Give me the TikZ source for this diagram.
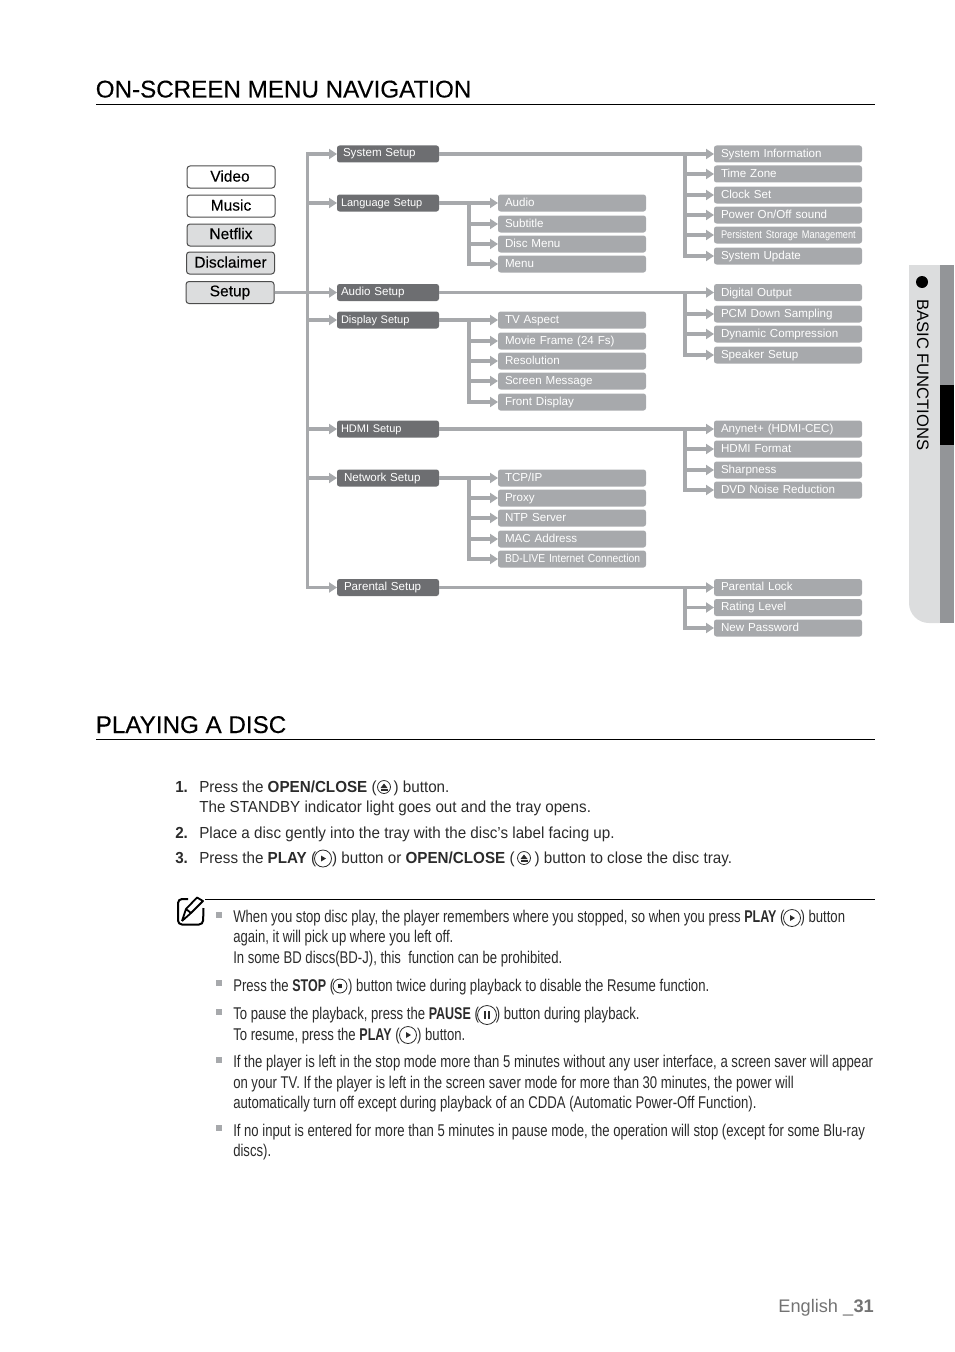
\documentclass[tikz,border=0pt]{standalone}
\usepackage{fontspec}
\usetikzlibrary{arrows.meta,calc}
\setmainfont{Liberation Sans}
\newfontfamily\condfont[FakeStretch=0.772]{Liberation Sans}
\newfontfamily\condb[FakeStretch=0.735]{Liberation Sans}
\newfontfamily\tightfont[FakeStretch=0.83]{Liberation Sans}
\newfontfamily\bdfont[FakeStretch=0.89]{Liberation Sans}
\newfontfamily\bodyfont[FakeStretch=0.95]{Liberation Sans}
\newfontfamily\medfont[FakeBold=0.25]{Liberation Sans}
\newdimen\px \px=0.75pt
\newcommand{\fs}[1]{\fontsize{#1\px}{#1\px}\selectfont}
\newcommand{\nb}[1]{{\condb\bfseries #1}}
\definecolor{conn}{HTML}{A7A9AC}
\definecolor{darkbox}{HTML}{6D6E71}
\definecolor{lightbox}{HTML}{A7A9AC}
\definecolor{txt}{HTML}{2B2B2B}
\definecolor{side}{HTML}{DCDDDE}
\definecolor{sidedark}{HTML}{939598}
\tikzset{
 x=0.75pt,y=-0.75pt,
 arr/.style={draw=conn,line width=3.3\px,-{Triangle[length=6pt,width=7.5pt]},fill=none},
 boxbase/.style={anchor=west,inner sep=0pt,outer sep=0pt,minimum height=17\px,text height=8\px,text depth=2\px,rounded corners=2.5\px,align=left,text=white,font=\fs{11}},
 midbox/.style={boxbase,fill=darkbox,text width=102\px},
 subbox/.style={boxbase,fill=lightbox,text width=148\px,font=\fs{11.6}},
 menubox/.style={anchor=center,draw=black!70,line width=1\px,rounded corners=3\px,minimum width=88\px,minimum height=22\px,inner sep=0pt,font=\medfont\fs{15.5},text=black},
 greymenu/.style={menubox,fill=side},
 title/.style={anchor=base west,inner sep=0pt,font=\medfont\fs{24.2},text=black},
 rule/.style={draw=black,line width=0.9\px},
 line/.style={anchor=base west,inner sep=0pt,font=\bodyfont\fs{16},text=txt},
 nline/.style={anchor=base west,inner sep=0pt,font=\condfont\fs{17},text=txt},
 icon/.style={circle,draw=txt,line width=0.8\px,minimum size=15\px,inner sep=0pt},
 glyph/.style={fill=txt,draw=none},
 sq/.style={fill=conn,draw=none,minimum size=6\px,inner sep=0pt,rectangle},
}
\begin{document}
\begin{tikzpicture}
\useasboundingbox (0,0) rectangle (954,1352);
% titles
\node[title] (t1) at (95.5,97.5) {ON-SCREEN MENU NAVIGATION};
\coordinate (r1a) at (96,104); \coordinate (r1b) at (875,104);
\draw[rule] (r1a) -- (r1b);
\node[title] (t2) at (95.5,733) {PLAYING A DISC};
\coordinate (r2a) at (96,739.5); \coordinate (r2b) at (875,739.5);
\draw[rule] (r2a) -- (r2b);
% left menu
\node[menubox] (video) at (231,177) {\raisebox{2\px}{Video\hspace*{2\px}}};
\node[menubox] (music) at (231,206) {\raisebox{2\px}{Music}};
\node[greymenu] (netflix) at (231,235) {\raisebox{3\px}{Netflix}};
\node[greymenu] (discl) at (230.5,263) {\raisebox{2\px}{Disclaimer}};
\node[greymenu] (setup) at (230,292.5) {\raisebox{-1.5\px}{Setup}};
% middle
\node[midbox] (sys) at (337,154) {\hspace*{6\px}\raisebox{1\px}{\fs{11.6}System Setup}};
\node[midbox] (lang) at (337,203) {\hspace*{4\px}Language Setup};
\node[midbox] (aud) at (337,292.5) {\hspace*{4\px}\fs{11.6}Audio Setup};
\node[midbox] (disp) at (337,320) {\hspace*{4\px}Display Setup};
\node[midbox] (hdmi) at (337,429) {\hspace*{4\px}HDMI Setup};
\node[midbox] (net) at (337,478) {\hspace*{7\px}\fs{11.6}Network Setup};
\node[midbox] (par) at (337,587.5) {\hspace*{7\px}\fs{11.6}Parental Setup};
% sub column 2
\node[subbox] (a1) at (498,203) {\hspace*{7\px}Audio};
\node[subbox] (a2) at (498,224) {\hspace*{7\px}Subtitle};
\node[subbox] (a3) at (498,244) {\hspace*{7\px}Disc Menu};
\node[subbox] (a4) at (498,264) {\hspace*{7\px}Menu};
\node[subbox] (d1) at (498,320) {\hspace*{7\px}TV Aspect};
\node[subbox] (d2) at (498,341) {\hspace*{7\px}Movie Frame (24 Fs)};
\node[subbox] (d3) at (498,361) {\hspace*{7\px}Resolution};
\node[subbox] (d4) at (498,381) {\hspace*{7\px}Screen Message};
\node[subbox] (d5) at (498,402) {\hspace*{7\px}Front Display};
\node[subbox] (n1) at (498,478) {\hspace*{7\px}TCP/IP};
\node[subbox] (n2) at (498,498) {\hspace*{7\px}Proxy};
\node[subbox] (n3) at (498,518) {\hspace*{7\px}NTP Server};
\node[subbox] (n4) at (498,539) {\hspace*{7\px}MAC Address};
\node[subbox] (n5) at (498,559) {\hspace*{7\px}{\bdfont\fs{11.6}BD-LIVE Internet Connection}};
% sub column 3
\node[subbox] (s1) at (714,154) {\hspace*{7\px}System Information};
\node[subbox] (s2) at (714,174) {\hspace*{7\px}Time Zone};
\node[subbox] (s3) at (714,195) {\hspace*{7\px}Clock Set};
\node[subbox] (s4) at (714,215) {\hspace*{7\px}Power On/Off sound};
\node[subbox] (s5) at (714,235) {\hspace*{7\px}{\tightfont\fs{11.1}Persistent Storage Management}};
\node[subbox] (s6) at (714,256) {\hspace*{7\px}System Update};
\node[subbox] (u1) at (714,292.5) {\hspace*{7\px}\raisebox{-0.5\px}{Digital Output}};
\node[subbox] (u2) at (714,314) {\hspace*{7\px}PCM Down Sampling};
\node[subbox] (u3) at (714,334) {\hspace*{7\px}Dynamic Compression};
\node[subbox] (u4) at (714,355) {\hspace*{7\px}Speaker Setup};
\node[subbox] (h1) at (714,429) {\hspace*{7\px}Anynet+ (HDMI-CEC)};
\node[subbox] (h2) at (714,449) {\hspace*{7\px}HDMI Format};
\node[subbox] (h3) at (714,470) {\hspace*{7\px}Sharpness};
\node[subbox] (h4) at (714,490) {\hspace*{7\px}DVD Noise Reduction};
\node[subbox] (p1) at (714,587.5) {\hspace*{7\px}Parental Lock};
\node[subbox] (p2) at (714,607.5) {\hspace*{7\px}Rating Level};
\node[subbox] (p3) at (714,628) {\hspace*{7\px}New Password};
% connectors
\coordinate (bus1) at (307.5,0);
\coordinate (bus2) at (469,0);
\coordinate (bus3) at (685,0);
\draw[arr] (setup.east) -- (aud.west);
\foreach \t in {sys,lang,disp,hdmi,net,par}
  \draw[arr] (setup.east) -- (setup.east -| bus1) |- (\t.west);
\draw[arr] (lang.east) -- (a1.west);
\foreach \t in {a2,a3,a4} \draw[arr] (lang.east -| bus2) |- (\t.west);
\draw[arr] (disp.east) -- (d1.west);
\foreach \t in {d2,d3,d4,d5} \draw[arr] (disp.east -| bus2) |- (\t.west);
\draw[arr] (net.east) -- (n1.west);
\foreach \t in {n2,n3,n4,n5} \draw[arr] (net.east -| bus2) |- (\t.west);
\draw[arr] (sys.east) -- (s1.west);
\foreach \t in {s2,s3,s4,s5,s6} \draw[arr] (s1.west -| bus3) |- (\t.west);
\draw[arr] (aud.east) -- (u1.west);
\foreach \t in {u2,u3,u4} \draw[arr] (u1.west -| bus3) |- (\t.west);
\draw[arr] (hdmi.east) -- (h1.west);
\foreach \t in {h2,h3,h4} \draw[arr] (h1.west -| bus3) |- (\t.west);
\draw[arr] (par.east) -- (p1.west);
\foreach \t in {p2,p3} \draw[arr] (p1.west -| bus3) |- (\t.west);
% numbered steps
\node[line] (n1a) at (175,792) {\textbf{1.}};
\node[line] (l1) at (199,792) {Press the \textbf{OPEN/CLOSE} (\hspace{17\px}) button.};
\node[line] (l2) at (199,812) {The STANDBY indicator light goes out and the tray opens.};
\node[line] (n2a) at (175,838) {\textbf{2.}};
\node[line] (l3) at (199,838) {Place a disc gently into the tray with the disc’s label facing up.};
\node[line] (n3a) at (175,863) {\textbf{3.}};
\node[line] (l4) at (199,863) {Press the \textbf{PLAY} (\hspace{16\px}) button or \textbf{OPEN/CLOSE} (\hspace{20\px}) button to close the disc tray.};
% icons in steps
\node[icon,minimum size=13\px] (ic1) at (384,787) {};
\fill[glyph] (380.5,788) -- (384,783.5) -- (387.5,788) -- cycle; \fill[glyph] (380.5,789) rectangle (387.5,790.5);
\node[icon,minimum size=17\px] (ic2) at (323,858.5) {};
\fill[glyph] (321,855.5) -- (326,858.5) -- (321,861.5) -- cycle;
\node[icon,minimum size=13\px] (ic3) at (524,858) {};
\fill[glyph] (520.5,859) -- (524,854.5) -- (527.5,859) -- cycle; \fill[glyph] (520.5,860) rectangle (527.5,861.5);
% note
\coordinate (r3a) at (205,899.5); \coordinate (r3b) at (875,899.5);
\draw[rule] (r3a) -- (r3b);
\draw[line width=2\px,black,rounded corners=4\px] (188,899) -- (178,899) -- (178,924.5) -- (203,924.5) -- (203.5,908);
\draw[line width=1.8\px,black,line join=round] (182,921) -- (186,909) -- (197,897.5) -- (203,901) -- (191,913) -- (182,921) (186,909) -- (191,913);
\foreach \n/\y in {b1/915,b2/983,b3/1012,b4/1060,b5/1128}
  \node[sq] (\n) at (218.5,\y) {};
\node[nline] (m1) at (233,922.5) {When you stop disc play, the player remembers where you stopped, so when you press \nb{PLAY} (\hspace{16\px}) button};
\node[nline] (m2) at (233,942.5) {again, it will pick up where you left off.};
\node[nline] (m3) at (233,963) {In some BD discs(BD-J), this\ \ function can be prohibited.};
\node[nline] (m4) at (233,991) {Press the \nb{STOP} (\hspace{14\px}) button twice during playback to disable the Resume function.};
\node[nline] (m5) at (233,1019.5) {To pause the playback, press the \nb{PAUSE} (\hspace{17\px}) button during playback.};
\node[nline] (m6) at (233,1040) {To resume, press the \nb{PLAY} (\hspace{17.5\px}) button.};
\node[nline] (m7) at (233,1067.5) {If the player is left in the stop mode more than 5 minutes without any user interface, a screen saver will appear};
\node[nline] (m8) at (233,1088) {on your TV. If the player is left in the screen saver mode for more than 30 minutes, the power will};
\node[nline] (m9) at (233,1108.5) {automatically turn off except during playback of an CDDA (Automatic Power-Off Function).};
\node[nline] (m10) at (233,1136) {If no input is entered for more than 5 minutes in pause mode, the operation will stop (except for some Blu-ray};
\node[nline] (m11) at (233,1156) {discs).};
% note icons
\node[icon,minimum size=17\px] (ic4) at (792,918) {};
\fill[glyph] (790,915) -- (795,918) -- (790,921) -- cycle;
\node[icon,minimum size=14\px] (ic5) at (340,986) {};
\fill[glyph] (338,984) rectangle (342,988);
\node[icon,minimum size=19\px] (ic6) at (487,1015) {};
\fill[glyph] (484,1011) rectangle (486,1019); \fill[glyph] (488,1011) rectangle (490,1019);
\node[icon,minimum size=17\px] (ic7) at (408,1035) {};
\fill[glyph] (406,1032) -- (411,1035) -- (406,1038) -- cycle;
% side tab
\fill[side] (940,265) -- (909,265) -- (909,603) arc[start angle=180,end angle=90,radius=20] -- (940,623) -- cycle;
\fill[sidedark] (940,265) rectangle (954,623);
\fill[black] (940,385) rectangle (954,445);
\node[circle,fill=black,minimum size=12\px,inner sep=0pt] (dot) at (922,282) {};
\node[anchor=base west,rotate=-90,inner sep=0pt,font=\fs{16.6},text=black] (basic) at (917,299) {BASIC FUNCTIONS};
% footer
\node[anchor=base east,inner sep=0pt,font=\fs{18.2},text=black!55] (foot) at (874,1312.5) {English \_\textbf{31}};
\end{tikzpicture}
\end{document}
